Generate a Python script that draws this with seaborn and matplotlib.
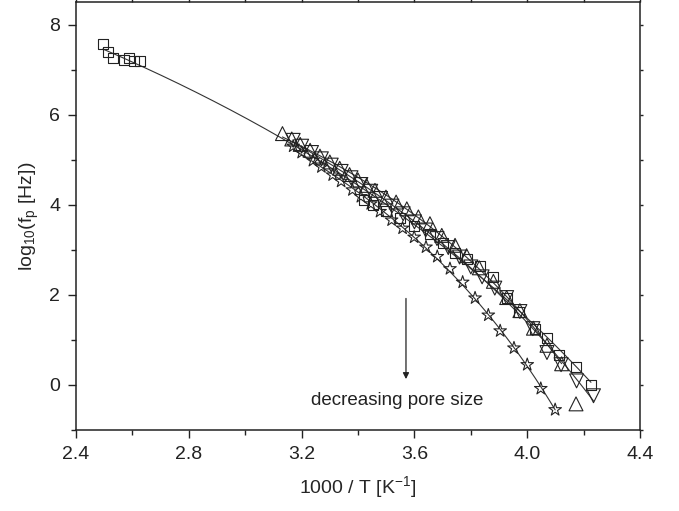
import numpy as np
import pandas as pd
import matplotlib
matplotlib.use("Agg")
import matplotlib.pyplot as plt
import seaborn as sns

# Relaxation map: peak frequency vs inverse temperature for four pore sizes
sq_x = [2.495, 2.513, 2.530, 2.571, 2.588, 2.607, 2.627,
        3.421, 3.453, 3.50, 3.55, 3.60, 3.655, 3.70, 3.744, 3.787,
        3.833, 3.878, 3.927, 3.971, 4.028, 4.069, 4.113, 4.173, 4.226]
sq_y = [7.57, 7.38, 7.25, 7.22, 7.25, 7.19, 7.19,
        4.11, 4.00, 3.87, 3.70, 3.52, 3.36, 3.15, 2.94, 2.80,
        2.65, 2.40, 1.94, 1.63, 1.25, 1.05, 0.67, 0.39, 0.00]

up_x = [3.132, 3.165, 3.195, 3.23, 3.265, 3.30, 3.335, 3.37, 3.40, 3.43,
        3.46, 3.499, 3.535, 3.573, 3.614, 3.655, 3.697, 3.744, 3.785, 3.83,
        3.88, 3.927, 3.974, 4.022, 4.07, 4.122, 4.173]
up_y = [5.58, 5.46, 5.34, 5.21, 5.08, 4.95, 4.81, 4.67, 4.55, 4.43,
        4.32, 4.17, 4.06, 3.91, 3.73, 3.58, 3.32, 3.10, 2.87, 2.60,
        2.30, 1.94, 1.65, 1.26, 0.88, 0.47, -0.42]

dn_x = [3.17, 3.20, 3.235, 3.27, 3.305, 3.34, 3.375, 3.41, 3.445, 3.48,
        3.52, 3.56, 3.60, 3.64, 3.68, 3.72, 3.76, 3.80, 3.84, 3.885,
        3.927, 3.974, 4.02, 4.07, 4.12, 4.175, 4.235]
dn_y = [5.43, 5.30, 5.16, 5.02, 4.88, 4.74, 4.60, 4.45, 4.30, 4.14,
        3.97, 3.80, 3.62, 3.44, 3.25, 3.05, 2.84, 2.62, 2.40, 2.15,
        1.94, 1.63, 1.25, 0.72, 0.45, 0.09, -0.24]

st_x = [3.17, 3.20, 3.24, 3.27, 3.31, 3.34, 3.38, 3.41, 3.445, 3.478,
        3.519, 3.558, 3.599, 3.641, 3.681, 3.726, 3.771, 3.815, 3.862,
        3.904, 3.953, 4.00, 4.048, 4.099]
st_y = [5.30, 5.16, 4.98, 4.84, 4.66, 4.52, 4.33, 4.18, 4.02, 3.85,
        3.66, 3.48, 3.28, 3.06, 2.85, 2.58, 2.28, 1.93, 1.55,
        1.20, 0.82, 0.45, -0.08, -0.55]


def vft_curve(xs, ys, n=200):
    """Fit log10 f = A - B / (T - T0) with T = 1000/x; return a smooth curve."""
    x = np.asarray(xs, float)
    y = np.asarray(ys, float)
    T = 1000.0 / x
    best = None
    for T0 in np.arange(0.0, T.min() - 5.0, 0.5):
        M = np.column_stack([np.ones_like(T), -1.0 / (T - T0)])
        coef, *_ = np.linalg.lstsq(M, y, rcond=None)
        err = np.sum((M @ coef - y) ** 2)
        if best is None or err < best[0]:
            best = (err, T0, coef)
    _, T0, (A, B) = best
    xf = np.linspace(x.min(), x.max(), n)
    yf = A - B / (1000.0 / xf - T0)
    return pd.DataFrame({"x": xf, "y": yf})


sns.set_theme(style="ticks")
plt.rcParams["font.family"] = ["Liberation Sans", "DejaVu Sans"]
plt.rcParams["mathtext.fontset"] = "custom"
plt.rcParams["mathtext.rm"] = "Liberation Sans"
plt.rcParams["mathtext.it"] = "Liberation Sans"
plt.rcParams["mathtext.default"] = "regular"

fig = plt.figure(figsize=(6.79, 5.11), dpi=100)
ax = fig.add_axes([0.112, 0.1585, 0.8306, 0.8375])

series = [
    (sq_x, sq_y, "s", 7.2, None),
    (up_x, up_y, "^", 10.0, slice(0, -1)),
    (dn_x, dn_y, "v", 10.0, None),
    (st_x, st_y, "*", 9.5, None),
]

for xs, ys, mk, ms, fit_sel in series:
    df = pd.DataFrame({"x": xs, "y": ys})
    fit_df = df if fit_sel is None else df.iloc[fit_sel]
    curve = vft_curve(fit_df["x"], fit_df["y"])
    sns.lineplot(data=curve, x="x", y="y", color="#333333", lw=0.8,
                 sort=False, ax=ax)
    sns.scatterplot(data=df, x="x", y="y", marker=mk, s=ms ** 2,
                    facecolor="none", edgecolor="#222222", linewidth=0.8,
                    ax=ax, zorder=3)

ax.annotate("", xy=(3.57, 0.13), xytext=(3.57, 1.92),
            arrowprops=dict(arrowstyle="-|>", lw=0.9, color="#222222",
                            mutation_scale=9, shrinkA=0, shrinkB=0))
ax.text(3.54, -0.34, "decreasing pore size", ha="center", va="center",
        fontsize=13.5, color="#222222")

ax.set_xlim(2.4, 4.4)
ax.set_ylim(-1.0, 8.5)
ax.set_xticks([2.4, 2.8, 3.2, 3.6, 4.0, 4.4])
ax.set_xticklabels(["2.4", "2.8", "3.2", "3.6", "4.0", "4.4"])
ax.set_xticks(np.arange(2.6, 4.3, 0.4), minor=True)
ax.set_yticks([0, 2, 4, 6, 8])
ax.set_yticks([-1, 1, 3, 5, 7], minor=True)

ax.set_xlabel("1000 / T [K$^{-1}$]", fontsize=14, labelpad=8)
ax.set_ylabel("log$_{10}$(f$_{p}$ [Hz])", fontsize=14, labelpad=6)

for sp in ax.spines.values():
    sp.set_visible(True)
    sp.set_linewidth(1.1)
    sp.set_color("#222222")

ax.tick_params(which="major", direction="out", length=5.5, width=1.0,
               labelsize=14, colors="#222222", pad=6)
ax.tick_params(which="minor", direction="out", length=3.5, width=1.0,
               colors="#222222")
ax.tick_params(which="both", top=True, right=True)
for t in ax.xaxis.get_major_ticks() + ax.xaxis.get_minor_ticks():
    t.tick2line.set_markersize(2)
for t in ax.yaxis.get_major_ticks() + ax.yaxis.get_minor_ticks():
    t.tick2line.set_markersize(2)

fig.savefig("out.png", dpi=100)
